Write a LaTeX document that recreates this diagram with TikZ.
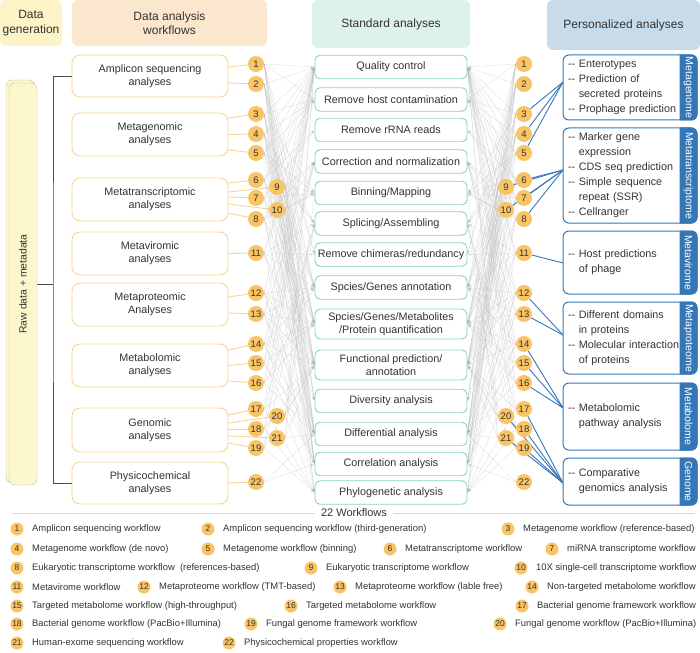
\documentclass[tikz,border=0pt]{standalone}
\usepackage{fontspec}
\setmainfont{Liberation Sans}
\setsansfont{Liberation Sans}
\usetikzlibrary{arrows,positioning,backgrounds}

\definecolor{genfill}{HTML}{FCF3C7}
\definecolor{wffill}{HTML}{FBE6CE}
\definecolor{stfill}{HTML}{DDF2EA}
\definecolor{psfill}{HTML}{C7DBEB}
\definecolor{wfline}{HTML}{F9D593}
\definecolor{wfdot}{HTML}{F9C466}
\definecolor{stline}{HTML}{86D6BF}
\definecolor{psline}{HTML}{3577B6}
\definecolor{rawfill}{HTML}{FCF6CC}
\definecolor{rawline}{HTML}{C9C2A6}
\definecolor{txt}{HTML}{333333}

\newcommand{\dd}{-{}-}

\begin{document}
\begin{tikzpicture}[
    x=1pt, y=1pt,
    >=latex',
    font=\fontsize{10.8}{13}\selectfont,
    text=txt,
    head/.style={
		rectangle,
		rounded corners=6pt,
		align=center,
		inner sep=0pt,
		font=\fontsize{12}{14.5}\selectfont
	},
    wfbox/.style={
		rectangle,
		rounded corners=8pt,
		draw=wfline,
		line width=0.9pt,
		fill=white,
		minimum width=156pt,
		align=center,
		inner sep=0pt
	},
    stbox/.style={
		rectangle,
		rounded corners=5pt,
		draw=stline,
		line width=0.9pt,
		fill=white,
		minimum width=152pt,
		minimum height=23.5pt,
		align=center,
		inner sep=0pt
	},
    psbox/.style={
		rectangle,
		rounded corners=6pt,
		draw=psline,
		line width=1pt,
		fill=white,
		minimum width=134pt,
		text width=124pt,
		align=left,
		inner xsep=5pt,
		inner ysep=0pt,
		font=\fontsize{10.8}{15}\selectfont
	},
    rawbox/.style={
		rectangle,
		rounded corners=6pt,
		draw=rawline,
		fill=rawfill,
		inner sep=0pt
	},
    dot/.style={circle, fill=wfdot, minimum size=16pt, inner sep=0pt, font=\fontsize{9.5}{10}\selectfont},
    ldot/.style={circle, fill=wfdot, minimum size=13pt, inner sep=0pt, font=\fontsize{8.5}{9}\selectfont},
    ltext/.style={anchor=west, inner sep=0pt, font=\fontsize{9.4}{11}\selectfont},
    tablabel/.style={rotate=-90, text=white, inner sep=0pt, font=\fontsize{10.5}{12}\selectfont},
    wfconn/.style={draw=wfline, line width=0.9pt},
    psconn/.style={draw=psline, line width=0.9pt},
    stconn/.style={draw=black!30, line width=0.3pt, opacity=0.45, ->}
  ]
  \useasboundingbox (0,0) rectangle (700,-652);

  % column headers
  \node [head, fill=genfill, minimum width=62pt, minimum height=46pt] (hgen) at (31,-23) {Data\\generation};
  \node [head, fill=wffill, minimum width=195pt, minimum height=46pt] (hwf) at (169.5,-23) {Data analysis\\workflows};
  \node [head, fill=stfill, minimum width=158pt, minimum height=48pt] (hst) at (391,-24) {Standard analyses};
  \node [head, fill=psfill, minimum width=153pt, minimum height=50pt] (hps) at (623.5,-25) {Personalized analyses};

  % raw data
  \node [rawbox, minimum width=29pt, minimum height=403pt] (rawb) at (20.5,-281.5) {};
  \node [rawbox, minimum width=28pt, minimum height=402pt] (raw) at (23,-284) {};
  \node [rotate=90, font=\fontsize{10.4}{12}\selectfont] (rawt) at (raw.center) {Raw data + metadata};

  % We start by placing the blocks
  \node [wfbox, minimum height=42pt] (amp) at (150,-76) {Amplicon sequencing\\analyses};
  \node [wfbox, minimum height=43pt] (mgen) at (150,-134.5) {Metagenomic\\analyses};
  \node [wfbox, minimum height=43pt] (mtra) at (150,-199.5) {Metatranscriptomic\\analyses};
  \node [wfbox, minimum height=43pt] (mvir) at (150,-253.5) {Metaviromic\\analyses};
  \node [wfbox, minimum height=43pt] (mpro) at (150,-304.5) {Metaproteomic\\Analyses};
  \node [wfbox, minimum height=43pt] (mbol) at (150,-365.5) {Metabolomic\\analyses};
  \node [wfbox, minimum height=44pt] (gen) at (150,-430) {Genomic\\analyses};
  \node [wfbox, minimum height=42pt] (phys) at (150,-483) {Physicochemical\\analyses};

  \coordinate (brk) at (53,-284);
  \draw [draw=black!70, line width=0.9pt] (amp.west) -| (brk) |- (phys.west);
  \draw [draw=black!70, line width=0.9pt] (raw.east) -- (brk);

  % standard analyses
  \node [stbox] (s1) at (391,-67) {Quality control};
  \node [stbox] (s2) at (391,-99.5) {Remove host contamination};
  \node [stbox] (s3) at (391,-130) {Remove rRNA reads};
  \node [stbox] (s4) at (391,-161.5) {Correction and normalization};
  \node [stbox] (s5) at (391,-193) {Binning/Mapping};
  \node [stbox] (s6) at (391,-223.5) {Splicing/Assembling};
  \node [stbox] (s7) at (391,-254.5) {Remove chimeras/redundancy};
  \node [stbox] (s8) at (391,-287.5) {Spcies/Genes annotation};
  \node [stbox, minimum height=30pt] (s9) at (391,-324) {Spcies/Genes/Metabolites\\/Protein quantification};
  \node [stbox, minimum height=30pt] (s10) at (391,-365) {Functional prediction/\\annotation};
  \node [stbox] (s11) at (391,-401) {Diversity analysis};
  \node [stbox] (s12) at (391,-434) {Differential analysis};
  \node [stbox] (s13) at (391,-464) {Correlation analysis};
  \node [stbox] (s14) at (391,-492.5) {Phylogenetic analysis};

  % workflow numbers, left and right
  \foreach \i/\y/\d in {1/64/0, 2/84/0, 3/114/0, 4/134/0, 5/153/0, 6/180/0, 7/198/0, 8/219/0,
      9/187/1, 10/210/1, 11/253/0, 12/293/0, 13/314/0, 14/344/0, 15/363/0, 16/383/0,
      17/409/0, 18/429/0, 19/448/0, 20/416/1, 21/438/1, 22/482/0} {
    \node [dot] (l\i) at (256+21*\d,-\y) {\i};
    \node [dot] (r\i) at (524-18*\d,-\y) {\i};
  }

  % personalized analyses
  \node [psbox, minimum height=65pt] (pmg) at (630,-87.5) {\dd{} Enterotypes\\\dd{} Prediction of\\\phantom{\dd{} }secreted proteins\\\dd{} Prophage prediction};
  \node [psbox, minimum height=95pt] (pmt) at (630,-175.5) {\dd{} Marker gene\\\phantom{\dd{} }expression\\\dd{} CDS seq prediction\\\dd{} Simple sequence\\\phantom{\dd{} }repeat (SSR)\\\dd{} Cellranger};
  \node [psbox, minimum height=63pt] (pmv) at (630,-262.5) {\dd{} Host predictions\\\phantom{\dd{} }of phage};
  \node [psbox, minimum height=72pt] (pmp) at (630,-338) {\dd{} Different domains\\\phantom{\dd{} }in proteins\\\dd{} Molecular interaction\\\phantom{\dd{} }of proteins};
  \node [psbox, minimum height=67pt] (pmb) at (630,-416.5) {\dd{} Metabolomic\\\phantom{\dd{} }pathway analysis};
  \node [psbox, minimum height=47pt] (pgn) at (630,-481.5) {\dd{} Comparative\\\phantom{\dd{} }genomics analysis};

  \foreach \b/\t in {pmg/Metagenome, pmt/Metatranscriptome, pmv/Metavirome,
      pmp/Metaproteome, pmb/Metabolome, pgn/Genome} {
    \begin{scope}
      \clip ([xshift=-18pt]\b.north east) rectangle (\b.south east);
      \fill [psline, rounded corners=6pt] (\b.north west) rectangle (\b.south east);
    \end{scope}
    \node [tablabel] (\b-tab) at ([xshift=-9pt]\b.east) {\t};
  }

  \coordinate (jmg) at (563,-82);
  \coordinate (jmt) at (563,-170);
  \coordinate (jmv) at (563,-263);
  \coordinate (jmp) at (563,-335);
  \coordinate (jmb) at (563,-408);
  \coordinate (jgn) at (563,-483);

  % connectors
  \begin{scope}[on background layer]
    \foreach \b/\s/\i in {amp/9/1, amp/-7/2, mgen/16.5/3, mgen/0/4, mgen/-15.5/5,
        mtra/16.5/6, mtra/7.5/9, mtra/2.5/7, mtra/-4.5/10, mtra/-13.5/8, mvir/0/11,
        mpro/7.5/12, mpro/-8.5/13, mbol/15.5/14, mbol/0/15, mbol/-15.5/16,
        gen/15/17, gen/7/20, gen/1/18, gen/-6/21, gen/-13/19, phys/0/22}
      \draw [wfconn] ([yshift=\s pt]\b.east) -- (l\i);

    \foreach \w/\sl in {1/{1,2,7,8,9,10,11,12,13,14}, 2/{1,7,8,9,10,11,12,13,14},
        3/{1,2,5,8,9,10,11,12,13}, 4/{1,2,6,8,9,10,11,12,13}, 5/{1,2,5,6,8,10,14},
        6/{1,2,3,5,8,9,10,12}, 7/{1,3,5,9,10,12}, 8/{1,4,5,9,10,12,13},
        9/{1,4,6,9,10,12,13}, 10/{1,4,5,9,12,13}, 11/{1,2,6,7,8,10,11,14},
        12/{1,4,8,9,10,12,13}, 13/{1,4,8,9,10,12,13}, 14/{1,4,8,9,10,12,13},
        15/{1,4,9,12,13}, 16/{1,4,8,9,12}, 17/{1,6,10,14}, 18/{1,6,10,14},
        19/{1,6,10,14}, 20/{1,6,10,14}, 21/{1,5,10,12}, 22/{12,13}} {
      \foreach \s in \sl {
        \draw [stconn] (l\w.east) -- (s\s.west);
        \draw [stconn] (r\w.west) -- (s\s.east);
      }
    }

    \foreach \i/\j in {3/jmg, 4/jmg, 5/jmg, 6/jmt, 9/jmt, 7/jmt, 10/jmt, 8/jmt,
        11/jmv, 12/jmp, 13/jmp, 14/jmb, 15/jmb, 16/jmb,
        17/jgn, 20/jgn, 18/jgn, 21/jgn, 19/jgn}
      \draw [psconn] (r\i) -- (\j);
  \end{scope}

  % legend
  \node [inner xsep=6pt, inner ysep=0pt, font=\fontsize{11}{12}\selectfont] (wfl) at (354,-513) {22 Workflows};
  \coordinate (lgl) at (12,-513);
  \coordinate (lgr) at (695,-513);
  \draw [wfconn] (lgl) -- (wfl.west);
  \draw [wfconn] (wfl.east) -- (lgr);

  \foreach \i/\x/\y/\t in {
      1/17/529/{Amplicon sequencing workflow},
      2/208/529/{Amplicon sequencing workflow (third-generation)},
      3/508/529/{Metagenome workflow (reference-based)},
      4/17/549/{Metagenome workflow (de novo)},
      5/208/549/{Metagenome workflow (binning)},
      6/390/549/{Metatranscriptome workflow},
      7/552/549/{miRNA transcriptome workflow},
      8/17/568/{Eukaryotic transcriptome workflow\ \ (references-based)},
      9/311/568/{Eukaryotic transcriptome workflow},
      10/521/568/{10X single-cell transcriptome workflow},
      11/17/587/{Metavirome workflow},
      12/144/587/{Metaproteome workflow (TMT-based)},
      13/340/587/{Metaproteome workflow (lable free)},
      14/532/587/{Non-targeted metabolome workflow},
      15/17/606/{Targeted metabolome workflow (high-throughput)},
      16/291/606/{Targeted metabolome workflow},
      17/522/606/{Bacterial genome framework workflow},
      18/17/624/{Bacterial genome workflow (PacBio+Illumina)},
      19/251/624/{Fungal genome framework workflow},
      20/500/624/{Fungal genome workflow (PacBio+Illumina)},
      21/17/643/{Human-exome sequencing workflow},
      22/229/643/{Physicochemical properties workflow}} {
    \node [ldot] (g\i) at (\x,-\y) {\i};
    \node [ltext] (t\i) at (\x+15,-\y) {\t};
  }

\end{tikzpicture}
\end{document}
